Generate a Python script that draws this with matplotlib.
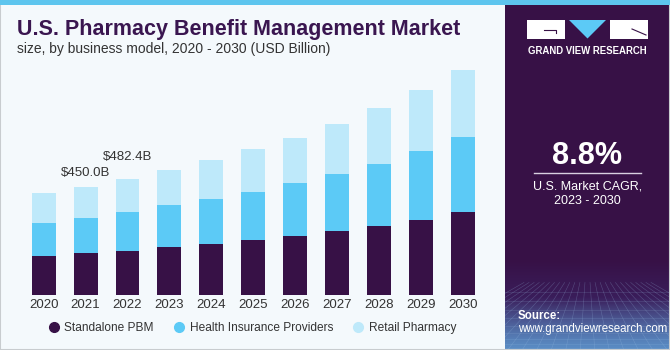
import numpy as np
import matplotlib.pyplot as plt
from matplotlib.patches import Rectangle, Polygon
from matplotlib.lines import Line2D
from matplotlib.colors import LinearSegmentedColormap

years = ["2020", "2021", "2022", "2023", "2024", "2025", "2026", "2027", "2028", "2029", "2030"]
standalone_pbm = [162, 173, 183, 198, 212, 227, 246, 266, 287, 313, 345]
health_insurance = [137, 147, 162, 175, 186, 201, 218, 237, 259, 285, 312]
retail_pharmacy = [123.5, 130, 137.4, 146, 163, 177, 190, 207, 230, 252, 278]
series_names = ["Standalone PBM", "Health Insurance Providers", "Retail Pharmacy"]
series_colors = ["#371146", "#5CCAF6", "#BEE9FA"]
labels = {1: "$450.0B", 2: "$482.4B"}

plt.rcParams["font.family"] = ["Liberation Sans", "DejaVu Sans"]

W, H = 670, 350
fig = plt.figure(figsize=(6.7, 3.5), dpi=100)
fig.patch.set_facecolor("#F4F9FC")


def fy(y):
    return 1 - y / H


# frame + top strip
fig.add_artist(Rectangle((0, 0), 1, 1, transform=fig.transFigure, fill=False,
                         edgecolor="#C8CCCF", linewidth=1.5, zorder=5))
fig.add_artist(Rectangle((0, 1 - 5 / H), 1, 5 / H, transform=fig.transFigure,
                         facecolor="#5DC5EE", edgecolor="none", zorder=5))

# right panel
px0 = 505 / W
fig.add_artist(Rectangle((px0, 0), 1 - px0, 1 - 5 / H, transform=fig.transFigure,
                         facecolor="#371146", edgecolor="none", zorder=-2))
gax = fig.add_axes([px0, 0, 1 - px0, 90 / H])
grad = np.linspace(0, 1, 100)[:, None] ** 1.3
cmap = LinearSegmentedColormap.from_list("g", ["#5A8CC4", "#3A1D5A", "#371146"])
gax.imshow(grad, aspect="auto", cmap=cmap, extent=[0, 1, 0, 1], origin="lower")
for k in np.linspace(-0.6, 1.6, 26):
    gax.plot([k, 0.5 + (k - 0.5) * 0.35], [0, 0.75], color="#9CC0E4", lw=0.4, alpha=0.3)
for k in np.linspace(0, 0.75, 10) ** 1.5:
    gax.axhline(k, color="#9CC0E4", lw=0.4, alpha=0.25)
gax.set_xlim(0, 1)
gax.set_ylim(0, 1)
gax.axis("off")

# logo
fig.add_artist(Rectangle((527 / W, fy(38.5)), 38 / W, 18.5 / H, transform=fig.transFigure,
                         facecolor="white", edgecolor="none"))
fig.add_artist(Rectangle((610 / W, fy(38.5)), 38 / W, 18.5 / H, transform=fig.transFigure,
                         facecolor="white", edgecolor="none"))
fig.add_artist(Polygon([(569 / W, fy(20)), (606 / W, fy(20)), (587.5 / W, fy(38.5))],
                       transform=fig.transFigure, facecolor="#5CCAF6", edgecolor="none"))
fig.add_artist(Line2D([544 / W, 556 / W, 556 / W], [fy(30), fy(30), fy(33)],
                      transform=fig.transFigure, color="#371146", lw=0.8))
fig.add_artist(Line2D([632 / W, 646 / W], [fy(29), fy(35)],
                      transform=fig.transFigure, color="#371146", lw=0.8))
fig.text(587.5 / W, fy(50.5), "GRAND VIEW RESEARCH", color="white", fontsize=6.9,
         fontweight="bold", ha="center", va="center")

fig.text(587 / W, fy(156), "8.8%", color="white", fontsize=22, fontweight="bold",
         ha="center", va="center")
fig.add_artist(Line2D([534 / W, 641 / W], [fy(173), fy(173)], transform=fig.transFigure,
                      color="#D8D0E0", lw=1))
fig.text(587.5 / W, fy(186), "U.S. Market CAGR,", color="white", fontsize=9,
         ha="center", va="center")
fig.text(587.5 / W, fy(201), "2023 - 2030", color="white", fontsize=9,
         ha="center", va="center")
fig.text(518 / W, fy(316), "Source:", color="white", fontsize=8.3, fontweight="bold",
         ha="left", va="center")
fig.text(518 / W, fy(329), "www.grandviewresearch.com", color="white", fontsize=8.3,
         ha="left", va="center")

# titles
fig.text(17 / W, fy(29), "U.S. Pharmacy Benefit Management Market", color="#3A1650",
         fontsize=15.5, fontweight="bold", ha="left", va="center")
fig.text(17 / W, fy(49), "size, by business model, 2020 - 2030 (USD Billion)", color="#333333",
         fontsize=10, ha="left", va="center")

# chart
ax = fig.add_axes([22.75 / W, 55 / H, 461 / W, 240.7 / H])
ax.set_facecolor("none")
x = np.arange(len(years))
bottom = np.zeros(len(years))
for vals, name, col in zip([standalone_pbm, health_insurance, retail_pharmacy],
                           series_names, series_colors):
    ax.bar(x, vals, width=0.57, bottom=bottom, color=col, label=name, linewidth=0)
    bottom += np.array(vals)

label_gap = {1: 32, 2: 68}
for i, txt in labels.items():
    ax.text(x[i], bottom[i] + label_gap[i], txt, ha="center", va="bottom", fontsize=9.5,
            color="#333333")

ax.set_xlim(-0.5, len(years) - 0.5)
ax.set_ylim(0, 1000)
ax.set_xticks(x)
ax.set_xticklabels(years, fontsize=9.5, color="#333333")
ax.tick_params(axis="x", length=0, pad=3)
ax.set_yticks([])
for s in ax.spines.values():
    s.set_visible(False)

handles = [Line2D([], [], marker="o", color=c, linestyle="none", markersize=7) for c in series_colors]
fig.legend(handles, series_names, loc="center", bbox_to_anchor=(252 / W, fy(328)), ncol=3,
           frameon=False, fontsize=8.6, handlelength=1.0, handletextpad=0.4,
           columnspacing=1.6, labelcolor="#333333")

fig.savefig("out.png", dpi=100, facecolor=fig.get_facecolor())
